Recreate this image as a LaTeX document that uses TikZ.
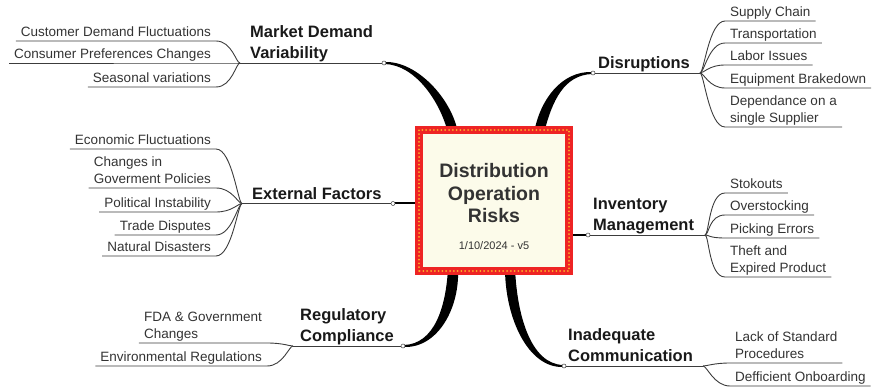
\documentclass[tikz,border=0pt]{standalone}
\usepackage{fontspec}
\setmainfont{Liberation Sans}
\usetikzlibrary{calc,backgrounds}
\definecolor{mmred}{RGB}{238,36,36}
\definecolor{mmdot}{RGB}{252,178,40}
\definecolor{mmcream}{RGB}{252,251,234}
\definecolor{mmink}{RGB}{51,51,51}
\definecolor{mmline}{RGB}{60,60,60}

\begin{document}
\begin{tikzpicture}[
  x=1pt,y=-1pt,
  ctrbox/.style={draw=mmred,line width=8pt,fill=mmcream,outer sep=0pt,
                 minimum width=150pt,minimum height=141pt,align=center,
                 text=mmink,font=\fontsize{19.5}{22.5}\selectfont\bfseries},
  trim/.style={draw=mmdot,line width=2pt,dash pattern=on 0pt off 3.8pt,
               line cap=round},
  topic/.style={anchor=south west,align=left,text depth=0pt,
                inner xsep=1pt,inner ysep=4pt,text=black!90,
                font=\fontsize{16.5}{21.5}\selectfont\bfseries},
  leafl/.style={anchor=south east,align=left,text depth=0pt,
                inner xsep=5pt,inner ysep=4pt,text=mmink,
                font=\fontsize{13.5}{17}\selectfont},
  leafr/.style={leafl,anchor=south west},
  knob/.style={circle,draw=mmline,fill=white,line width=0.5pt,
               inner sep=0pt,minimum size=4pt},
  stem/.style={draw=mmline,line width=0.9pt},
  limb/.style={fill=black},
  spoke/.style={draw=black,line width=2pt},
  ]
  \useasboundingbox (0,0) rectangle (874,387);

  % centre
  \node[ctrbox] (ctr) at (494,200.5) {\rule{0pt}{26pt}Distribution\\Operation\\Risks\\[4pt]{\fontsize{11}{13}\selectfont\mdseries 1/10/2024 - v5}};
  \draw[trim] (ctr.south west) rectangle (ctr.north east);

  % knobs and forks
  \node[knob] (mdvk) at (384,63) {};
  \node[knob] (disk) at (593,73) {};
  \node[knob] (extk) at (393,203.5) {};
  \node[knob] (invk) at (588,235) {};
  \node[knob] (regk) at (403,346) {};
  \node[knob] (comk) at (564,366) {};
  \coordinate (mdvf) at (240,63);
  \coordinate (disf) at (700,73);
  \coordinate (extf) at (242,203.5);
  \coordinate (invf) at (705,235);
  \coordinate (regf) at (293,346);
  \coordinate (comf) at (703,366);

  % main topics
  \node[topic] (mdv) at (249,63)    {Market Demand\\Variability};
  \node[topic] (dis) at (597,73)    {Disruptions};
  \node[topic] (ext) at (251,203.5) {External Factors};
  \node[topic] (inv) at (592,235)   {Inventory\\Management};
  \node[topic] (reg) at (299,346)   {Regulatory\\Compliance};
  \node[topic] (com) at (567,366)   {Inadequate\\Communication};

  % thick limbs from the centre
  \begin{scope}[on background layer]
    \fill[limb] ($(ctr.north)+(-46,3)$) .. controls +(-8,-32) and +(30,1) .. ($(mdvk)+(1,1)$)
      -- ($(mdvk)+(1,-1)$) .. controls +(32,-1) and +(-6,-34) .. ($(ctr.north)+(-36,3)$) -- cycle;
    \fill[limb] ($(ctr.north)+(40,3)$) .. controls +(6,-34) and +(-30,-1) .. ($(disk)+(-1,-1)$)
      -- ($(disk)+(-1,1)$) .. controls +(-28,1) and +(8,-32) .. ($(ctr.north)+(50,3)$) -- cycle;
    \fill[limb] ($(ctr.south)+(-46,-3)$) .. controls +(-2,40) and +(30,-1) .. ($(regk)+(1,-1)$)
      -- ($(regk)+(1,1)$) .. controls +(34,1) and +(2,40) .. ($(ctr.south)+(-36,-3)$) -- cycle;
    \fill[limb] ($(ctr.south)+(11,-3)$) .. controls +(0,50) and +(-35,1) .. ($(comk)+(-1,1)$)
      -- ($(comk)+(-1,-1)$) .. controls +(-32,-1) and +(2,48) .. ($(ctr.south)+(21,-3)$) -- cycle;
    \draw[spoke] (ctr.west |- extk) -- (extk.east);
    \draw[spoke] (ctr.east |- invk) -- (invk.west);
  \end{scope}
  \draw[stem] (mdvf) -- (mdvk.west);
  \draw[stem] (disk.east) -- (disf);
  \draw[stem] (extf) -- (extk.west);
  \draw[stem] (invk.east) -- (invf);
  \draw[stem] (regf) -- (regk.west);
  \draw[stem] (comk.east) -- (comf);

  % leaves
  \node[leafl] (mdv1) at (216,41) {Customer Demand Fluctuations};
  \node[leafl] (mdv2) at (216,63) {Consumer Preferences Changes};
  \node[leafl] (mdv3) at (216,87) {Seasonal variations};

  \node[leafr] (dis1) at (725,21)  {Supply Chain};
  \node[leafr] (dis2) at (725,43)  {Transportation};
  \node[leafr] (dis3) at (725,65)  {Labor Issues};
  \node[leafr] (dis4) at (725,88)  {Equipment Brakedown};
  \node[leafr] (dis5) at (725,127) {Dependance on a\\single Supplier};

  \node[leafl] (ext1) at (216,149) {Economic Fluctuations};
  \node[leafl] (ext2) at (216,188) {Changes in\\Goverment Policies};
  \node[leafl] (ext3) at (216,212) {Political Instability};
  \node[leafl] (ext4) at (216,235) {Trade Disputes};
  \node[leafl] (ext5) at (216,256) {Natural Disasters};

  \node[leafr] (inv1) at (725,193) {Stokouts};
  \node[leafr] (inv2) at (725,215) {Overstocking};
  \node[leafr] (inv3) at (725,238) {Picking Errors};
  \node[leafr] (inv4) at (725,277) {Theft and\\Expired Product};

  \node[leafl] (reg1) at (267,343) {FDA \& Government\\Changes};
  \node[leafl] (reg2) at (267,366) {Environmental Regulations};

  \node[leafr] (com1) at (730,363) {Lack of Standard\\Procedures};
  \node[leafr] (com2) at (730,386) {Defficient Onboarding};

  \foreach \l in {mdv1,mdv2,mdv3}
    \draw[stem] (mdvf) .. controls +(-4,0) and +(16,0) .. (\l.south east) -- (\l.south west);
  \foreach \l in {dis1,dis2,dis3,dis4,dis5}
    \draw[stem] (disf) .. controls +(4,0) and +(-16,0) .. (\l.south west) -- (\l.south east);
  \foreach \l in {ext1,ext2,ext3,ext4,ext5}
    \draw[stem] (extf) .. controls +(-4,0) and +(16,0) .. (\l.south east) -- (\l.south west);
  \foreach \l in {inv1,inv2,inv3,inv4}
    \draw[stem] (invf) .. controls +(4,0) and +(-16,0) .. (\l.south west) -- (\l.south east);
  \foreach \l in {reg1,reg2}
    \draw[stem] (regf) .. controls +(-4,0) and +(16,0) .. (\l.south east) -- (\l.south west);
  \foreach \l in {com1,com2}
    \draw[stem] (comf) .. controls +(4,0) and +(-16,0) .. (\l.south west) -- (\l.south east);
\end{tikzpicture}
\end{document}
